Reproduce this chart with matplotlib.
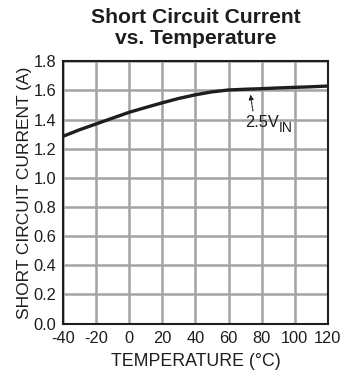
import matplotlib
matplotlib.use("Agg")
import matplotlib.pyplot as plt
from matplotlib.transforms import offset_copy

plt.rcParams['font.family'] = ['Liberation Sans', 'DejaVu Sans']

# Short-circuit current vs. temperature (2.5 V input)
temperature_c = [-40, -30, -20, -10, 0, 10, 20, 30, 40, 50, 60, 70, 80, 90, 100, 110, 120]
current_a = [1.285, 1.33, 1.37, 1.41, 1.45, 1.483, 1.515, 1.545, 1.57, 1.59, 1.603,
             1.608, 1.612, 1.617, 1.621, 1.625, 1.63]

x_ticks = [-40, -20, 0, 20, 40, 60, 80, 100, 120]
y_ticks = [0.0, 0.2, 0.4, 0.6, 0.8, 1.0, 1.2, 1.4, 1.6, 1.8]

ink = '#1e1e1e'

fig = plt.figure(figsize=(3.44, 3.77), dpi=100)
ax = fig.add_axes([0.183, 0.1415, 0.770, 0.696])

ax.plot(temperature_c, current_a, color=ink, lw=2.4, solid_capstyle='butt',
        solid_joinstyle='round', zorder=3)

ax.set_xlim(-40, 120)
ax.set_ylim(0, 1.8)
ax.set_xticks(x_ticks)
ax.set_yticks(y_ticks)
ax.set_xticklabels([str(v) for v in x_ticks])
ax.set_yticklabels([f"{v:.1f}" for v in y_ticks])
ax.tick_params(length=0, labelsize=11.8, colors=ink)
ax.tick_params(axis='y', pad=5)
ax.tick_params(axis='x', pad=5)
ax.grid(True, color='#a3a3a3', lw=1.8)
ax.set_axisbelow(True)
for s in ax.spines.values():
    s.set_color(ink)
    s.set_linewidth(1.5)

ax.set_xlabel('TEMPERATURE (°C)', fontsize=12.8, color=ink, labelpad=5)
ax.set_ylabel('SHORT CIRCUIT CURRENT (A)', fontsize=12.5, color=ink, labelpad=1)

fig.text(0.568, 0.954, 'Short Circuit Current', ha='center', va='center',
         fontsize=15.2, fontweight='bold', color=ink)
fig.text(0.568, 0.899, 'vs. Temperature', ha='center', va='center',
         fontsize=15.2, fontweight='bold', color=ink)

ax.annotate('', xy=(73, 1.59), xytext=(75, 1.44),
            arrowprops=dict(arrowstyle='-|>', color=ink, lw=0.8,
                            linestyle=(0, (2, 1)), mutation_scale=7))
main = ax.text(70, 1.38, '2.5V', fontsize=11.8, color=ink, ha='left', va='center')
fig.canvas.draw()
w = main.get_window_extent().width * 72 / fig.dpi
ax.text(70, 1.38, 'IN', fontsize=10, color=ink, ha='left', va='center',
        transform=offset_copy(ax.transData, fig=fig, x=w, y=-4, units='points'))

fig.savefig('out.png', dpi=100)
